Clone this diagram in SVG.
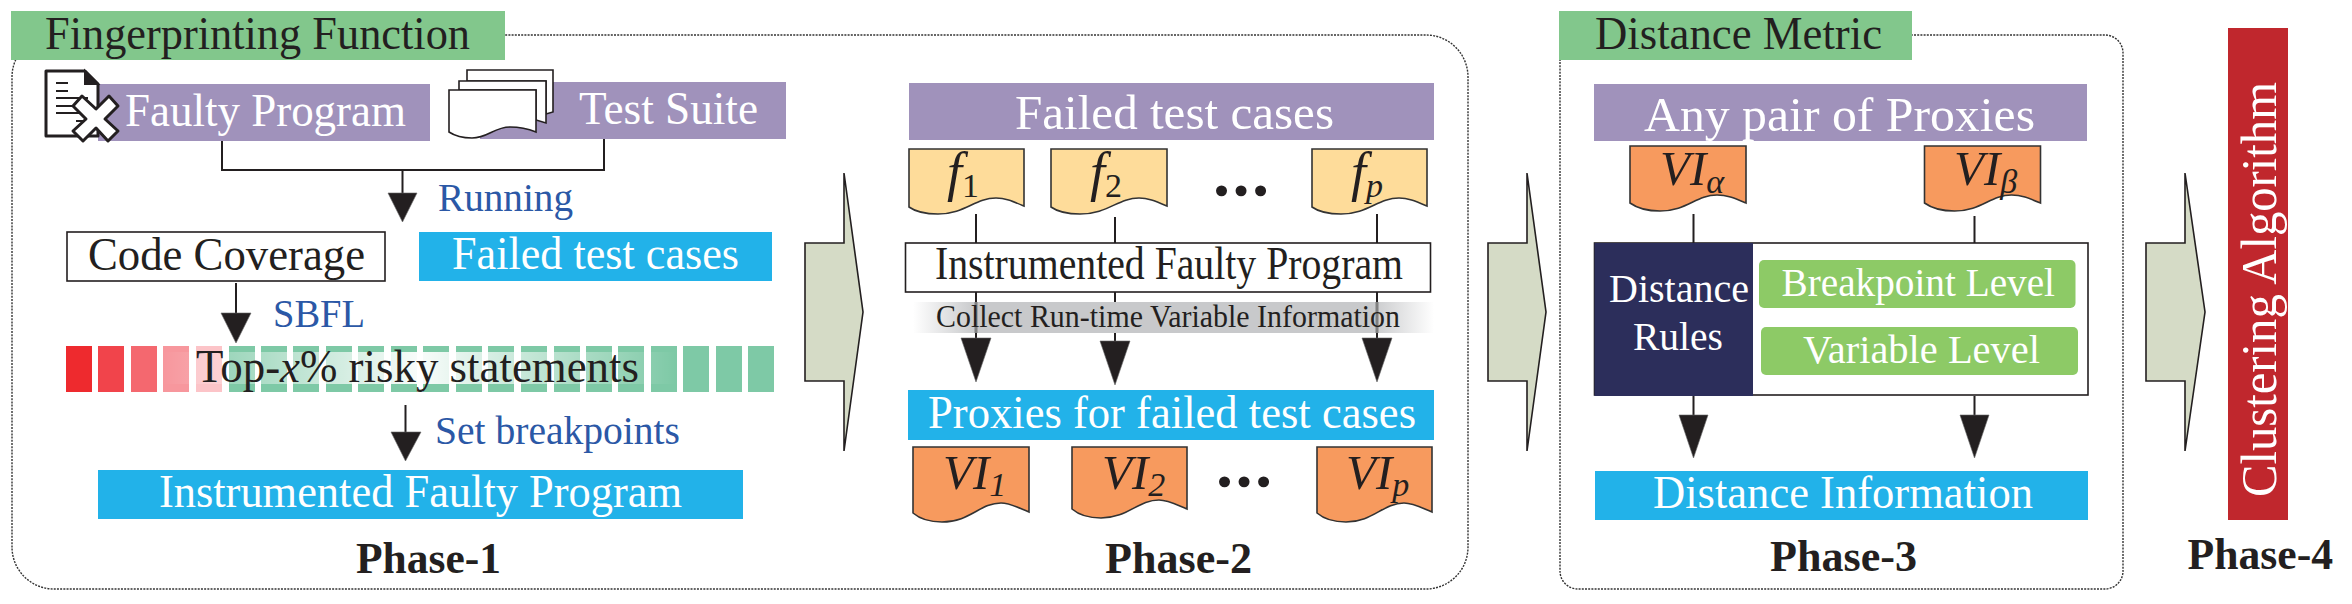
<svg xmlns="http://www.w3.org/2000/svg" width="2352" height="604" viewBox="0 0 2352 604">
<style>
text{font-family:"Liberation Serif","Times New Roman",serif;fill:#231f20;font-size:46px}
.w{fill:#fff}.b{fill:#2b58a6;font-size:40px}.ph{font-weight:bold;font-size:44px}
.pu{fill:#a092bb}.cy{fill:#22b2e9}.gr{fill:#82c78c}.lv{fill:#8dca66}
.i{font-style:italic}.big{font-size:49px}
.fn{font-size:54px}
.dots{font-size:58px;font-weight:bold;stroke:#231f20;stroke-width:1.6}
.panel{fill:none;stroke:#333;stroke-width:1.4;stroke-dasharray:2 1.2}
.line{fill:none;stroke:#231f20;stroke-width:2}
.head{fill:#231f20;stroke:#666;stroke-width:.6}
.fat{fill:#d5dbc6;stroke:#231f20;stroke-width:1.6}
.box{fill:#fff;stroke:#231f20;stroke-width:1.6}
.fd{fill:#fedc9a;stroke:#333;stroke-width:1.6}
.vd{fill:#f79a5e;stroke:#333;stroke-width:1.6}
.sheet{fill:#fff;stroke:#231f20;stroke-width:1.6}
.bar{fill:#7ec9a6}
</style>
<defs>
<linearGradient id="fade"><stop offset="0" stop-color="#fff" stop-opacity="0"/><stop offset=".5" stop-color="#fff" stop-opacity=".95"/><stop offset="1" stop-color="#fff" stop-opacity="0"/></linearGradient>
<linearGradient id="band"><stop offset="0" stop-color="#c8c9cb" stop-opacity="0"/><stop offset=".12" stop-color="#c8c9cb"/><stop offset=".88" stop-color="#c8c9cb"/><stop offset="1" stop-color="#c8c9cb" stop-opacity="0"/></linearGradient>
</defs>

<g id="panel-fingerprinting">
<rect class="panel" x="12" y="35" width="1456" height="554" rx="42" ry="42"/>
<rect class="gr" x="11" y="11" width="494" height="49"/>
<text x="45" y="49" textLength="425" lengthAdjust="spacingAndGlyphs">Fingerprinting Function</text>
</g>
<g id="panel-distance">
<rect class="panel" x="1560" y="35" width="563" height="554" rx="18" ry="18"/>
<rect class="gr" x="1559" y="11" width="353" height="49"/>
<text x="1595" y="49" textLength="287" lengthAdjust="spacingAndGlyphs">Distance Metric</text>
</g>

<g id="connectors">
<path class="line" d="M222,141V170H604V139"/>
<path class="line" d="M402.500,170V196"/><polygon class="head" points="388,193 417,193 402.500,222"/>
<path class="line" d="M236,283V316"/><polygon class="head" points="221,313 251,313 236,343"/>
<path class="line" d="M405.500,405V435"/><polygon class="head" points="391,432 421,432 405.500,461"/>
<path class="line" d="M976,214V243M1115,217V243M1377,214V243M976,292V340M1115,292V343M1377,292V340"/>
<polygon class="head" points="961,338 991,338 976,382"/>
<polygon class="head" points="1100,341 1130,341 1115,385"/>
<polygon class="head" points="1362,338 1392,338 1377,382"/>
<path class="line" d="M1693.500,214V243M1974.500,216V243M1693.500,396V418M1974.500,396V418"/>
<polygon class="head" points="1679,415 1708,415 1693.500,458"/>
<polygon class="head" points="1960,415 1989,415 1974.500,458"/>
<polygon class="fat" points="805,243 844,243 844,173 863,312 844,451 844,381 805,381"/>
<polygon class="fat" points="1488,243 1527,243 1527,173 1546,312 1527,451 1527,381 1488,381"/>
<polygon class="fat" points="2146,243 2185,243 2185,173 2205,312 2185,451 2185,381 2146,381"/>
</g>

<g id="faulty-program">
<rect class="pu" x="98" y="84" width="332" height="57"/>
<path d="M46,71H85L98,84V136H46Z" fill="#fff" stroke="#231f20" stroke-width="3" stroke-linejoin="round"/>
<path d="M85,71V84H98Z" fill="#231f20" stroke="#231f20" stroke-width="2"/>
<path d="M56,83H68M56,91H68M56,98H88M56,106H88M56,113H88M76,121H90" stroke="#231f20" stroke-width="2" fill="none"/>
<polygon points="82,96 96,109 109,96 118,106 105,119 118,131 108,141 96,128 83,141 73,131 86,119 73,106" fill="#fff" stroke="#231f20" stroke-width="3" stroke-linejoin="round"/>
<text class="w" x="125" y="126" textLength="281" lengthAdjust="spacingAndGlyphs">Faulty Program</text>
</g>
<g id="test-suite">
<rect class="pu" x="480" y="82" width="306" height="57"/>
<path class="sheet" d="M467,70H553V112L546,114V81H467Z"/>
<path class="sheet" d="M459,81H546V123L536,120V90H459Z"/>
<path class="sheet" d="M449,90H536V132C526,128 520,127 510,127C494,127 488,138 472,138C462,138 455,136 449,132Z"/>
<text class="w" x="579" y="124" textLength="179" lengthAdjust="spacingAndGlyphs">Test Suite</text>
</g>
<text id="label-running" class="b" x="438" y="211" textLength="135" lengthAdjust="spacingAndGlyphs">Running</text>
<g id="code-coverage">
<rect class="box" x="67" y="232" width="318" height="49"/>
<text x="88" y="270" textLength="277" lengthAdjust="spacingAndGlyphs">Code Coverage</text>
</g>
<g id="failed-cases-1">
<rect class="cy" x="419" y="232" width="353" height="49"/>
<text class="w" x="452" y="269" textLength="287" lengthAdjust="spacingAndGlyphs">Failed test cases</text>
</g>
<text id="label-sbfl" class="b" x="273" y="327" textLength="92" lengthAdjust="spacingAndGlyphs">SBFL</text>
<g id="risky-statements">
<rect x="66" y="346" width="26" height="46" fill="#ee2a2e"/>
<rect x="98" y="346" width="26" height="46" fill="#f1444b"/>
<rect x="131" y="346" width="26" height="46" fill="#f4686f"/>
<rect x="163" y="346" width="26" height="46" fill="#f7979d"/>
<rect x="196" y="346" width="26" height="46" fill="#fcc4c8"/>
<rect class="bar" x="229" y="346" width="26" height="46"/>
<rect class="bar" x="261" y="346" width="26" height="46"/>
<rect class="bar" x="293" y="346" width="26" height="46"/>
<rect class="bar" x="326" y="346" width="26" height="46"/>
<rect class="bar" x="358" y="346" width="26" height="46"/>
<rect class="bar" x="391" y="346" width="26" height="46"/>
<rect class="bar" x="423" y="346" width="26" height="46"/>
<rect class="bar" x="456" y="346" width="26" height="46"/>
<rect class="bar" x="488" y="346" width="26" height="46"/>
<rect class="bar" x="521" y="346" width="26" height="46"/>
<rect class="bar" x="554" y="346" width="26" height="46"/>
<rect class="bar" x="586" y="346" width="26" height="46"/>
<rect class="bar" x="618" y="346" width="26" height="46"/>
<rect class="bar" x="651" y="346" width="26" height="46"/>
<rect class="bar" x="683" y="346" width="26" height="46"/>
<rect class="bar" x="716" y="346" width="26" height="46"/>
<rect class="bar" x="748" y="346" width="26" height="46"/>
<rect x="163" y="352" width="513" height="32" fill="url(#fade)"/>
<text x="196" y="382" textLength="443" lengthAdjust="spacingAndGlyphs">Top-<tspan class="i">x</tspan>% risky statements</text>
</g>
<text id="label-breakpoints" class="b" x="435" y="444" textLength="245" lengthAdjust="spacingAndGlyphs">Set breakpoints</text>
<g id="instrumented-1">
<rect class="cy" x="98" y="470" width="645" height="49"/>
<text class="w" x="159" y="507" textLength="523" lengthAdjust="spacingAndGlyphs">Instrumented Faulty Program</text>
</g>
<text id="phase-1" class="ph" x="356" y="573" textLength="145" lengthAdjust="spacingAndGlyphs">Phase-1</text>

<g id="failed-cases-2">
<rect class="pu" x="909" y="83" width="525" height="57"/>
<text class="w big" x="1015" y="129" textLength="319" lengthAdjust="spacingAndGlyphs">Failed test cases</text>
</g>
<g id="f1">
<path class="fd" d="M909,149h115v57c-12-5-19-8-28-8c-21,0-31,16-58,16c-14,0-22-2-29-7z"/>
<text class="i fn" x="947" y="190">f<tspan font-size="34" font-style="normal" dy="7">1</tspan></text>
</g>
<g id="f2">
<path class="fd" d="M1051,149h116v57c-12-5-19-8-28-8c-21,0-31,16-59,16c-14,0-22-2-29-7z"/>
<text class="i fn" x="1090" y="190">f<tspan font-size="34" font-style="normal" dy="7">2</tspan></text>
</g>
<text id="dots-1" class="dots" x="1212" y="195">…</text>
<g id="fp">
<path class="fd" d="M1312,149h115v57c-12-5-19-8-28-8c-21,0-31,16-58,16c-14,0-22-2-29-7z"/>
<text class="i fn" x="1351" y="190">f<tspan font-size="34" dy="7">p</tspan></text>
</g>
<g id="instrumented-2">
<rect class="box" x="905.500" y="243" width="525" height="49"/>
<text x="935" y="279" textLength="468" lengthAdjust="spacingAndGlyphs">Instrumented Faulty Program</text>
</g>
<g id="collect-band">
<rect x="913" y="302" width="521" height="31" fill="url(#band)"/>
<path d="M976,302V333M1377,302V333" stroke="#808080" stroke-width="3"/>
<text x="936" y="327" textLength="464" lengthAdjust="spacingAndGlyphs" style="font-size:31px">Collect Run-time Variable Information</text>
</g>
<g id="proxies">
<rect class="cy" x="908" y="390" width="526" height="50"/>
<text class="w" x="928" y="428" textLength="488" lengthAdjust="spacingAndGlyphs">Proxies for failed test cases</text>
</g>
<g id="vi1">
<path class="vd" d="M913,447h116v65c-12-5-19-9-28-9c-21,0-31,19-59,19c-14,0-22-3-29-9z"/>
<text class="i big" x="943" y="489">VI<tspan font-size="34" dy="7">1</tspan></text>
</g>
<g id="vi2">
<path class="vd" d="M1072,447h115v62c-12-5-19-9-28-9c-21,0-31,18-58,18c-14,0-22-3-29-9z"/>
<text class="i big" x="1102" y="489">VI<tspan font-size="34" dy="7">2</tspan></text>
</g>
<text id="dots-2" class="dots" x="1215" y="486">…</text>
<g id="vip">
<path class="vd" d="M1317,447h115v65c-12-5-19-9-28-9c-21,0-31,19-58,19c-14,0-22-3-29-9z"/>
<text class="i big" x="1346" y="489">VI<tspan font-size="34" dy="7">p</tspan></text>
</g>
<text id="phase-2" class="ph" x="1105" y="573" textLength="147" lengthAdjust="spacingAndGlyphs">Phase-2</text>

<g id="any-pair">
<rect class="pu" x="1594" y="84" width="493" height="57"/>
<text class="w big" x="1644" y="131" textLength="391" lengthAdjust="spacingAndGlyphs">Any pair of Proxies</text>
</g>
<g id="vi-alpha">
<path class="vd" d="M1630,146h116v57c-12-5-19-8-29-8c-21,0-30,16-57,16c-14,0-23-3-30-8z"/>
<text class="i big" x="1660" y="185">VI<tspan font-size="34" dy="8">α</tspan></text>
</g>
<g id="vi-beta">
<path class="vd" d="M1924.500,146h116v57c-12-5-19-8-29-8c-21,0-30,16-57,16c-14,0-23-3-30-8z"/>
<text class="i big" x="1954" y="185">VI<tspan font-size="34" dy="8">β</tspan></text>
</g>
<g id="distance-rules">
<rect class="box" x="1594.500" y="243" width="493.500" height="152"/>
<rect x="1594.500" y="243" width="158.500" height="153" fill="#2c2e5b"/>
<text class="w" x="1609" y="302" textLength="140" lengthAdjust="spacingAndGlyphs" style="font-size:40px">Distance</text>
<text class="w" x="1633" y="350" textLength="90" lengthAdjust="spacingAndGlyphs" style="font-size:40px">Rules</text>
</g>
<g id="breakpoint-level">
<rect class="lv" x="1759" y="260" width="316.500" height="48" rx="5"/>
<text class="w" x="1781.500" y="296" textLength="273.500" lengthAdjust="spacingAndGlyphs" style="font-size:40px">Breakpoint Level</text>
</g>
<g id="variable-level">
<rect class="lv" x="1761" y="327" width="317" height="48" rx="5"/>
<text class="w" x="1803" y="363" textLength="237" lengthAdjust="spacingAndGlyphs" style="font-size:40px">Variable Level</text>
</g>
<g id="distance-information">
<rect class="cy" x="1595" y="471" width="493" height="49"/>
<text class="w" x="1653" y="508" textLength="380" lengthAdjust="spacingAndGlyphs">Distance Information</text>
</g>
<text id="phase-3" class="ph" x="1770" y="571" textLength="147" lengthAdjust="spacingAndGlyphs">Phase-3</text>

<g id="clustering">
<rect x="2228" y="28" width="60" height="492" fill="#c0272d"/>
<text class="w" transform="translate(2275.500,497) rotate(-90)" textLength="415" lengthAdjust="spacingAndGlyphs" style="font-size:50px">Clustering Algorithm</text>
</g>
<text id="phase-4" class="ph" x="2187.500" y="569" textLength="145.500" lengthAdjust="spacingAndGlyphs">Phase-4</text>
</svg>
